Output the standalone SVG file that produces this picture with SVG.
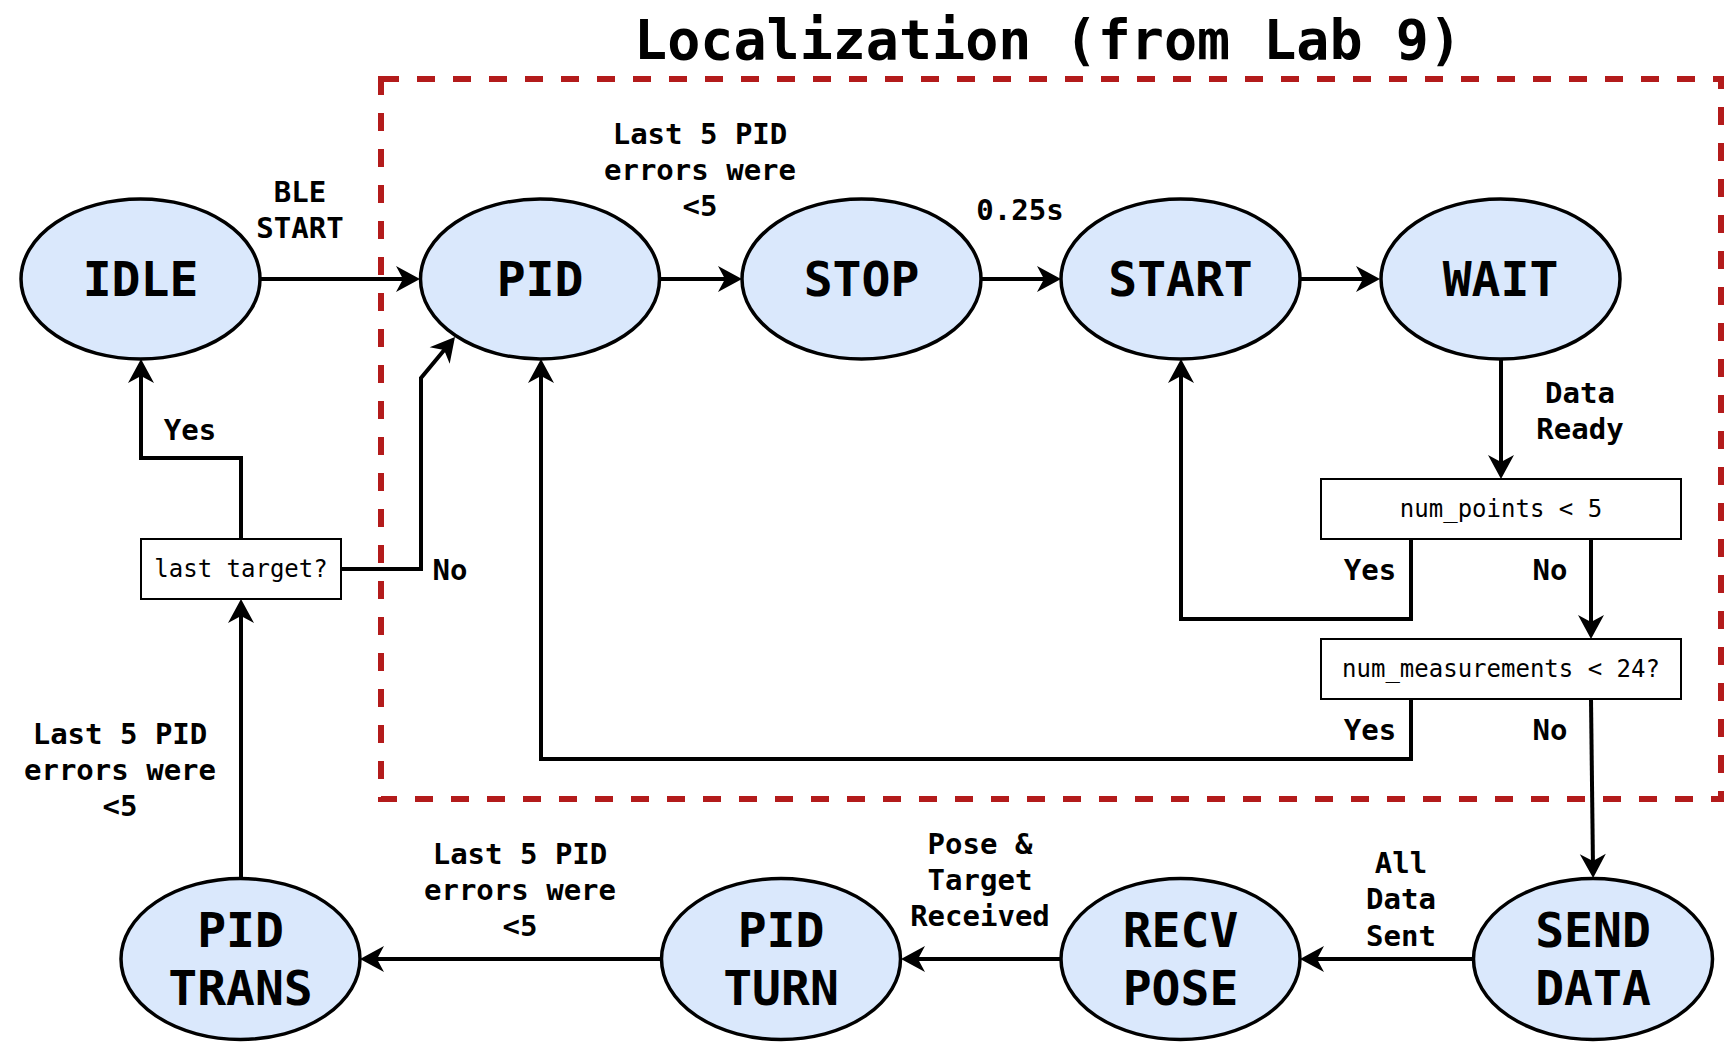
<svg xmlns="http://www.w3.org/2000/svg" width="1724" height="1042" viewBox="0 0 1724 1042">
<style>
.st{fill:#dae8fc;stroke:#000;stroke-width:3.5}
.nt{font-family:"DejaVu Sans Mono",monospace;font-weight:bold;font-size:48px;text-anchor:middle;fill:#000}
.lb{font-family:"DejaVu Sans Mono",monospace;font-weight:bold;font-size:29px;text-anchor:middle;fill:#000}
.bx{fill:#fff;stroke:#000;stroke-width:2}
.bt{font-family:"DejaVu Sans Mono",monospace;font-size:24px;text-anchor:middle;fill:#000}
.cn{fill:none;stroke:#000;stroke-width:4;marker-end:url(#ar)}
</style>
<defs>
<marker id="ar" markerUnits="userSpaceOnUse" markerWidth="30" markerHeight="30" refX="14" refY="13" orient="auto" overflow="visible">
<path d="M0,0 L24,13 L0,26 L7,13 Z" fill="#000"/>
</marker>
</defs>
<rect width="1724" height="1042" fill="#fff"/>
<text x="1048" y="59" font-family="DejaVu Sans Mono,monospace" font-weight="bold" font-size="55" text-anchor="middle">Localization (from Lab 9)</text>
<rect id="localization" x="381" y="79" width="1340" height="720" fill="none" stroke="#B31B1B" stroke-width="6" stroke-dasharray="18 18"/>
<g id="connectors">
<path class="cn" d="M260,279 L410,279"/>
<path class="cn" d="M660,279 L732,279"/>
<path class="cn" d="M981,279 L1051,279"/>
<path class="cn" d="M1300,279 L1370,279"/>
<path class="cn" d="M1501,359 L1501,469"/>
<path class="cn" d="M1411,539 L1411,619 L1181,619 L1181,369"/>
<path class="cn" d="M1591,539 L1591,629"/>
<path class="cn" d="M1411,699 L1411,759 L541,759 L541,369"/>
<path class="cn" d="M1591,699 L1593,868"/>
<path class="cn" d="M1473,959 L1310,959"/>
<path class="cn" d="M1061,959 L911,959"/>
<path class="cn" d="M661,959 L370,959"/>
<path class="cn" d="M241,878 L241,609"/>
<path class="cn" d="M241,539 L241,458 L141,458 L141,369"/>
<path class="cn" d="M341,569 L421,569 L421,378 L448.6,344.7"/>
<text class="lb" x="300" y="202">BLE</text>
<text class="lb" x="300" y="238">START</text>
<text class="lb" x="700" y="144">Last 5 PID</text>
<text class="lb" x="700" y="180">errors were</text>
<text class="lb" x="700" y="216">&lt;5</text>
<text class="lb" x="1020" y="220">0.25s</text>
<text class="lb" x="1580" y="403">Data</text>
<text class="lb" x="1580" y="439">Ready</text>
<text class="lb" x="190" y="440">Yes</text>
<text class="lb" x="450" y="580">No</text>
<text class="lb" x="1370" y="580">Yes</text>
<text class="lb" x="1550" y="580">No</text>
<text class="lb" x="1370" y="740">Yes</text>
<text class="lb" x="1550" y="740">No</text>
<text class="lb" x="120" y="744">Last 5 PID</text>
<text class="lb" x="120" y="780">errors were</text>
<text class="lb" x="120" y="816">&lt;5</text>
<text class="lb" x="520" y="864">Last 5 PID</text>
<text class="lb" x="520" y="900">errors were</text>
<text class="lb" x="520" y="936">&lt;5</text>
<text class="lb" x="980" y="854">Pose &amp;</text>
<text class="lb" x="980" y="890">Target</text>
<text class="lb" x="980" y="926">Received</text>
<text class="lb" x="1401" y="873">All</text>
<text class="lb" x="1401" y="909">Data</text>
<text class="lb" x="1401" y="946">Sent</text>
</g>
<g id="idle"><ellipse class="st" cx="140.5" cy="279" rx="119.5" ry="80"/><text class="nt" x="140.5" y="296">IDLE</text></g>
<g id="pid"><ellipse class="st" cx="540" cy="279" rx="119.5" ry="80"/><text class="nt" x="540" y="296">PID</text></g>
<g id="stop"><ellipse class="st" cx="861.5" cy="279" rx="119.5" ry="80"/><text class="nt" x="861.5" y="296">STOP</text></g>
<g id="start"><ellipse class="st" cx="1180.5" cy="279" rx="119.5" ry="80"/><text class="nt" x="1180.5" y="296">START</text></g>
<g id="wait"><ellipse class="st" cx="1500.5" cy="279" rx="119.5" ry="80"/><text class="nt" x="1500.5" y="296">WAIT</text></g>
<g id="num_points"><rect class="bx" x="1321" y="479" width="360" height="60"/><text class="bt" x="1501" y="517">num_points &lt; 5</text></g>
<g id="num_measurements"><rect class="bx" x="1321" y="639" width="360" height="60"/><text class="bt" x="1501" y="677">num_measurements &lt; 24?</text></g>
<g id="last_target"><rect class="bx" x="141" y="539" width="200" height="60"/><text class="bt" x="241" y="577">last target?</text></g>
<g id="send_data"><ellipse class="st" cx="1593" cy="959" rx="119.5" ry="80.5"/><text class="nt" x="1593" y="947">SEND</text><text class="nt" x="1593" y="1005">DATA</text></g>
<g id="recv_pose"><ellipse class="st" cx="1180.5" cy="959" rx="119.5" ry="80.5"/><text class="nt" x="1180.5" y="947">RECV</text><text class="nt" x="1180.5" y="1005">POSE</text></g>
<g id="pid_turn"><ellipse class="st" cx="781" cy="959" rx="119.5" ry="80.5"/><text class="nt" x="781" y="947">PID</text><text class="nt" x="781" y="1005">TURN</text></g>
<g id="pid_trans"><ellipse class="st" cx="240.5" cy="959" rx="119.5" ry="80.5"/><text class="nt" x="240.5" y="947">PID</text><text class="nt" x="240.5" y="1005">TRANS</text></g>
</svg>
